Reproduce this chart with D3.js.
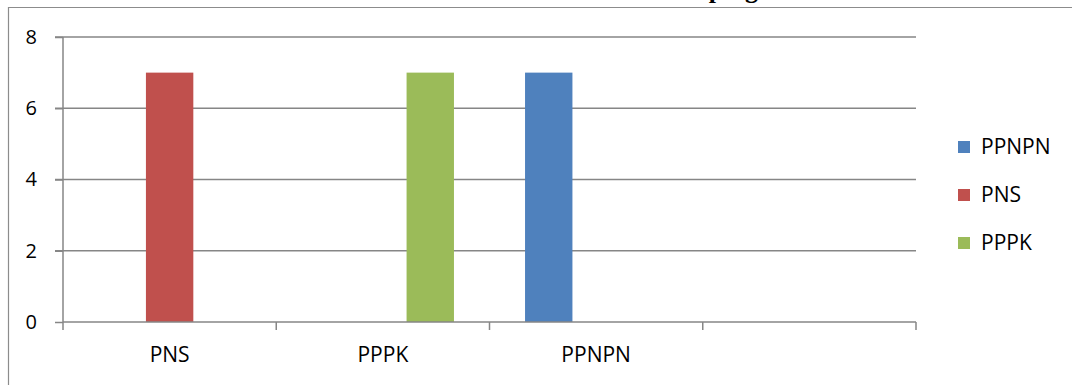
<!DOCTYPE html>
<html>
<head>
<meta charset="utf-8">
<script src="https://cdn.jsdelivr.net/npm/d3@7"></script>
<style>
  html, body { margin: 0; padding: 0; background: #fff; }
  svg { display: block; }
  text { font-family: "Open Sans", "Liberation Sans", sans-serif; fill: #000; }
</style>
</head>
<body>
<svg id="chart" width="1072" height="385"></svg>
<script>
// Categories along the x axis (the fourth slot has no label)
const categories = ["PNS", "PPPK", "PPNPN", ""];
// Series, in legend order
const seriesNames = ["PPNPN", "PNS", "PPPK"];
const seriesColors = ["#4f81bd", "#c0504d", "#9bbb59"];
const valuesPPNPN = [0, 0, 7, 0];
const valuesPNS   = [7, 0, 0, 0];
const valuesPPPK  = [0, 7, 0, 0];
const seriesValues = [valuesPPNPN, valuesPNS, valuesPPPK];
const yTicks = [0, 2, 4, 6, 8];
const titleText = "Grouping";

const svg = d3.select("#chart");
const W = 1072, H = 385;
const plot = { left: 63, right: 916, top: 37, bottom: 322 };
const gridColor = "#868686";

// Chart frame (left and top edges fall inside the view)
svg.append("path")
  .attr("d", `M8.5,${H} V7.5 H${W}`)
  .attr("fill", "none")
  .attr("stroke", "#8c8c8c")
  .attr("stroke-width", 1.2);

// Title sits above the visible area; only its descenders reach into view
svg.append("text")
  .attr("x", 650)
  .attr("y", -2)
  .attr("font-weight", "bold")
  .attr("font-size", 26)
  .style("font-family", "'Liberation Serif', 'DejaVu Serif', serif")
  .text(titleText);

const x0 = d3.scaleBand().domain(d3.range(categories.length))
  .range([plot.left, plot.right]).paddingInner(0).paddingOuter(0);
const x1 = d3.scaleBand().domain(d3.range(seriesNames.length))
  .range([0, x0.bandwidth()]).paddingInner(0).paddingOuter(0.75);
const y = d3.scaleLinear().domain([0, 8]).range([plot.bottom, plot.top]);

// Horizontal gridlines with short ticks on the left
const gy = svg.append("g");
gy.selectAll("line").data(yTicks.filter(d => d > 0)).join("line")
  .attr("x1", plot.left - 8).attr("x2", plot.right)
  .attr("y1", d => y(d)).attr("y2", d => y(d))
  .attr("stroke", gridColor).attr("stroke-width", 1.5);

// Bars
seriesValues.forEach((vals, si) => {
  svg.append("g").selectAll("rect")
    .data(vals.map((v, ci) => ({ v, ci })).filter(d => d.v > 0))
    .join("rect")
    .attr("x", d => x0(d.ci) + x1(si))
    .attr("width", x1.bandwidth())
    .attr("y", d => y(d.v))
    .attr("height", d => y(0) - y(d.v))
    .attr("fill", seriesColors[si]);
});

// Y axis
const yAxis = d3.axisLeft(y).tickValues(yTicks).tickSize(8).tickPadding(18)
  .tickFormat(d3.format("d"));
const ya = svg.append("g").attr("transform", `translate(${plot.left},0)`).call(yAxis);
ya.select(".domain").attr("stroke", gridColor).attr("stroke-width", 1.5)
  .attr("d", `M0,${plot.top}V${plot.bottom}`);
ya.selectAll(".tick line").attr("stroke", gridColor).attr("stroke-width", 1.5);
ya.selectAll(".tick text").attr("font-size", 20).style("font-family", "'Open Sans', sans-serif");

// X axis with ticks at band boundaries
const xAxisG = svg.append("g").attr("transform", `translate(0,${plot.bottom})`);
xAxisG.append("line").attr("x1", plot.left).attr("x2", plot.right)
  .attr("stroke", gridColor).attr("stroke-width", 1.5);
const boundaries = d3.range(categories.length + 1).map(i =>
  i < categories.length ? x0(i) : x0(categories.length - 1) + x0.bandwidth());
xAxisG.selectAll("line.tk").data(boundaries).join("line").attr("class", "tk")
  .attr("x1", d => d).attr("x2", d => d).attr("y1", 0).attr("y2", 8)
  .attr("stroke", gridColor).attr("stroke-width", 1.5);
xAxisG.selectAll("text").data(categories).join("text")
  .attr("x", (d, i) => x0(i) + x0.bandwidth() / 2)
  .attr("y", 33)
  .attr("dy", "0.35em")
  .attr("text-anchor", "middle")
  .attr("font-size", 21)
  .text(d => d);

// Legend
const legend = svg.append("g").attr("transform", "translate(958,141)");
seriesNames.forEach((name, i) => {
  const g = legend.append("g").attr("transform", `translate(0,${i * 48})`);
  g.append("rect").attr("width", 12).attr("height", 12).attr("fill", seriesColors[i]);
  g.append("text").attr("x", 23).attr("y", 6).attr("dy", "0.35em")
    .attr("font-size", 21).text(name);
});
</script>
</body>
</html>
